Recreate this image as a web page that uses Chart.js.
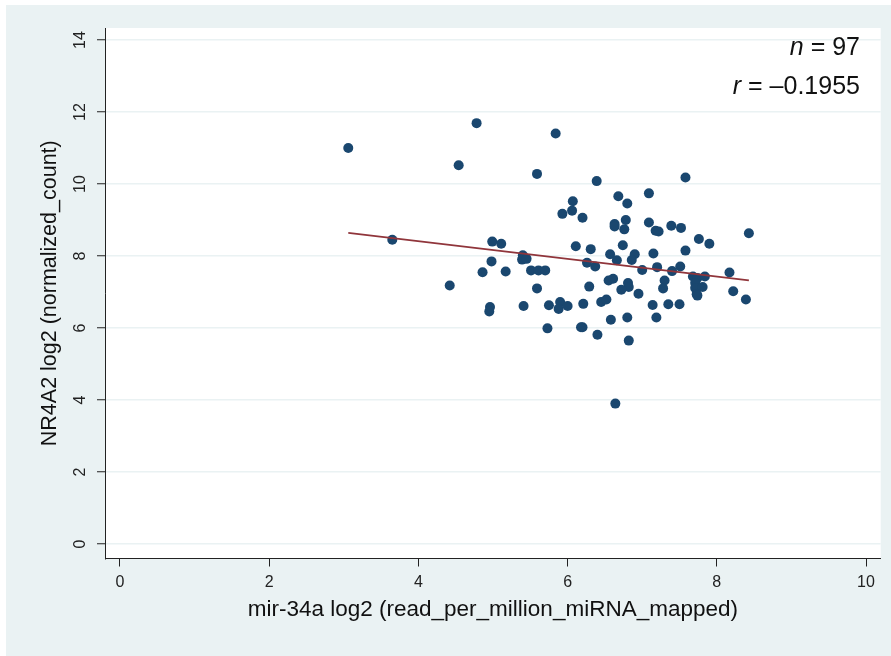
<!DOCTYPE html>
<html>
<head>
<meta charset="utf-8">
<script src="https://cdn.jsdelivr.net/npm/chart.js@4/dist/chart.umd.min.js"></script>
<style>
  html, body { margin: 0; padding: 0; background: #ffffff; }
  #wrap { position: relative; width: 891px; height: 656px; }
  #c { position: absolute; left: 0; top: 0; }
  #note {
    position: absolute; right: 31px; top: 27px;
    font-family: Arial, "Liberation Sans", sans-serif;
    font-size: 25px; line-height: 39px; color: #111; text-align: right;
  }
</style>
</head>
<body>
<div id="wrap">
  <canvas id="c" width="891" height="656"></canvas>
  <div id="note"><div><i>n</i> = 97</div><div><i>r</i> = &ndash;0.1955</div></div>
</div>
<script>
// ---- data ----
const xValues = [3.06,4.78,4.54,5.84,5.59,6.07,5.93,6.06,6.20,3.65,4.99,5.11,6.11,4.98,5.40,5.39,5.45,6.31,6.26,6.39,
  7.58,6.68,6.80,7.09,6.63,6.63,6.78,6.76,7.09,7.18,7.22,7.39,7.52,7.76,7.90,8.43,6.74,6.57,6.90,6.66,
  6.86,7.15,7.58,6.37,7.00,7.20,7.40,7.51,7.68,7.74,7.84,8.17,7.30,7.28,7.71,7.71,7.81,7.73,7.74,8.22,
  8.39,6.55,6.61,6.29,6.81,6.82,6.72,6.95,6.21,6.45,6.52,7.14,7.35,7.50,6.58,6.80,7.19,6.20,6.40,6.82,
  6.64,4.86,5.17,5.51,5.61,5.70,4.42,5.59,4.96,4.95,5.41,5.75,5.90,5.88,6.00,5.73,6.18];
const yValues = [11.00,11.69,10.52,11.40,10.28,9.52,9.17,9.26,9.06,8.45,8.40,8.34,8.27,7.85,8.02,7.90,7.92,8.19,7.81,10.08,
  10.18,9.66,9.46,9.74,8.89,8.82,9.00,8.74,8.93,8.70,8.68,8.84,8.78,8.47,8.34,8.63,8.30,8.05,8.05,7.88,
  7.89,8.07,8.15,7.71,7.61,7.69,7.58,7.71,7.43,7.39,7.43,7.54,7.32,7.10,7.25,7.11,7.14,6.94,6.90,7.02,
  6.79,7.32,7.37,7.15,7.25,7.14,7.06,6.95,6.67,6.72,6.79,6.64,6.66,6.66,6.23,6.29,6.29,6.02,5.81,5.65,
  3.90,7.55,7.57,7.60,7.60,7.60,7.18,7.10,6.58,6.46,6.61,6.63,6.72,6.53,6.61,5.99,6.02];
const fitX = [3.06, 8.43];
const fitY = [8.64, 7.32];
const xTicks = [0, 2, 4, 6, 8, 10];
const yTicks = [0, 2, 4, 6, 8, 10, 12, 14];
const xTitle = "mir-34a log2 (read_per_million_miRNA_mapped)";
const yTitle = "NR4A2 log2 (normalized_count)";

const scatterPts = xValues.map((x, i) => ({ x: x, y: yValues[i] }));
const fitPts = fitX.map((x, i) => ({ x: x, y: fitY[i] }));

const FONT = 'Arial, "Liberation Sans", sans-serif';
const BG = '#eaf2f3';

const bgPlugin = {
  id: 'bgPlugin',
  beforeDraw(chart) {
    const ctx = chart.ctx, a = chart.chartArea;
    ctx.save();
    ctx.fillStyle = '#ffffff';
    ctx.fillRect(0, 0, chart.width, chart.height);
    ctx.fillStyle = BG;
    ctx.fillRect(6, 5, chart.width - 6, chart.height - 5);
    ctx.fillStyle = '#ffffff';
    ctx.fillRect(a.left, a.top, a.right - a.left, a.bottom - a.top);
    ctx.restore();
  }
};

new Chart(document.getElementById('c'), {
  type: 'scatter',
  data: {
    datasets: [
      {
        type: 'line',
        data: fitPts,
        borderColor: '#90353b',
        borderWidth: 1.8,
        pointRadius: 0,
        fill: false,
        order: 0
      },
      {
        type: 'scatter',
        data: scatterPts,
        backgroundColor: '#1a476f',
        borderColor: '#1a476f',
        borderWidth: 0,
        pointRadius: 5,
        order: 1
      }
    ]
  },
  options: {
    responsive: false,
    animation: false,
    devicePixelRatio: 1,
    layout: { padding: { top: 28, right: 10.3, left: 0, bottom: 0 } },
    plugins: { legend: { display: false }, tooltip: { enabled: false } },
    scales: {
      x: {
        type: 'linear',
        min: -0.201,
        max: 10.197,
        afterBuildTicks(scale) { scale.ticks = xTicks.map(v => ({ value: v })); },
        afterFit(scale) { scale.height = 97.5; },
        grid: { drawOnChartArea: false, drawTicks: true, tickLength: 8, tickColor: '#222', tickWidth: 1 },
        border: { display: true, color: '#222', width: 1 },
        ticks: { color: '#222', font: { family: FONT, size: 16 }, padding: 6, maxRotation: 0, minRotation: 0 },
        title: { display: true, text: xTitle, color: '#111', font: { family: FONT, size: 22.5 }, padding: { top: 0, bottom: 33 } }
      },
      y: {
        type: 'linear',
        min: -0.403,
        max: 14.333,
        afterBuildTicks(scale) { scale.ticks = yTicks.map(v => ({ value: v })); },
        afterFit(scale) { scale.width = 105; },
        grid: { color: BG, lineWidth: 1.5, drawTicks: true, tickLength: 8, tickColor: '#222', tickWidth: 1 },
        border: { display: true, color: '#222', width: 1 },
        ticks: { color: '#222', font: { family: FONT, size: 16 }, padding: 8, minRotation: 90, maxRotation: 90, crossAlign: 'center' },
        title: { display: true, text: yTitle, color: '#111', font: { family: FONT, size: 21.5 }, padding: { top: 37, bottom: 0 } }
      }
    }
  },
  plugins: [bgPlugin]
});
</script>
</body>
</html>
